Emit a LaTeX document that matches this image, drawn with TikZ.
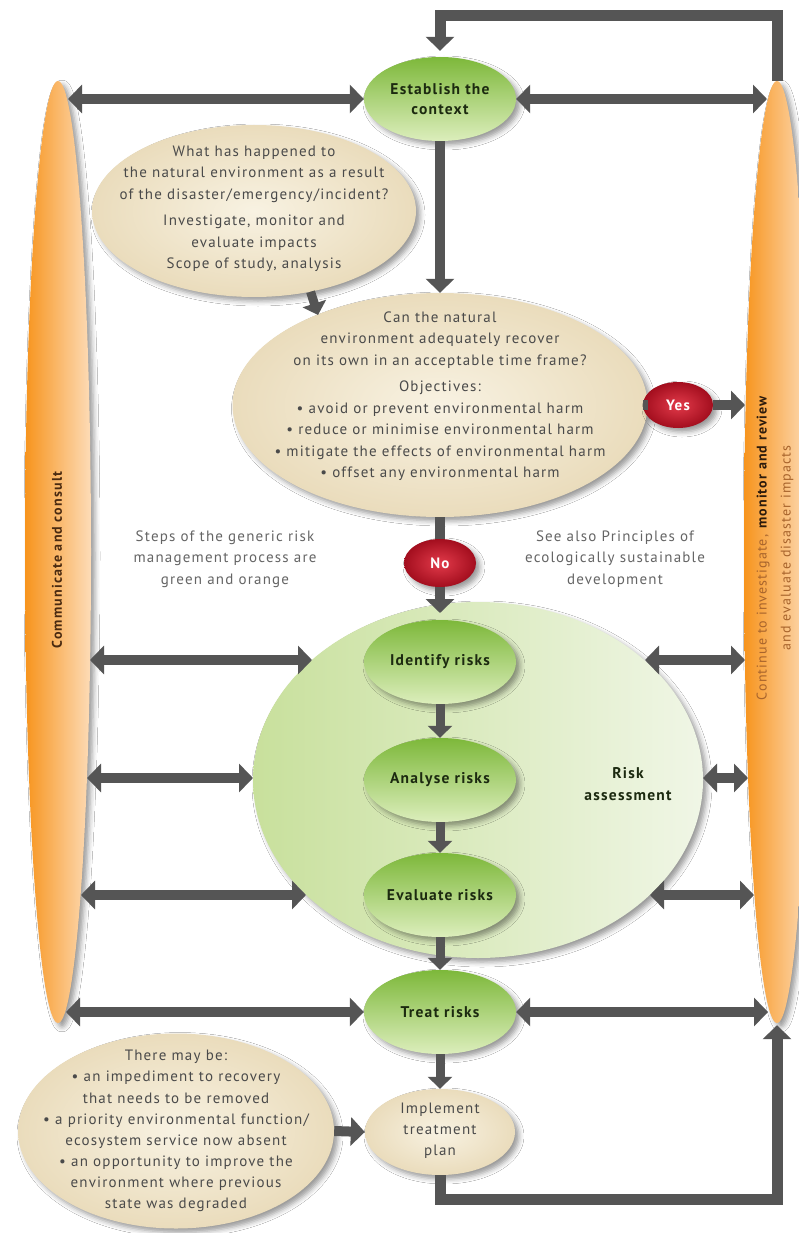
\documentclass[tikz,border=0pt]{standalone}
\usepackage{fontspec}
\setmainfont{PT Sans}[LetterSpace=8]
\usetikzlibrary{shapes.geometric,arrows.meta,shadows,shadows.blur}
\definecolor{arrowgray}{HTML}{555555}
\definecolor{txtgray}{HTML}{4A4A4A}
\definecolor{greentop}{HTML}{7DB83A}
\definecolor{greenbot}{HTML}{DCEEBC}
\definecolor{beigeout}{HTML}{EADCBC}
\definecolor{beigein}{HTML}{F8F2E2}
\definecolor{raL}{HTML}{C8E09C}
\definecolor{raR}{HTML}{F0F6E6}
\definecolor{orangeA}{HTML}{F7941D}
\definecolor{orangeB}{HTML}{FDDCB8}
\definecolor{redA}{HTML}{E23A4A}
\definecolor{redB}{HTML}{A30E1E}
\definecolor{darkgreen}{HTML}{1C2A10}
\definecolor{brownbar}{HTML}{4A2A10}
\definecolor{orangetext}{HTML}{A8642C}
\definecolor{darkbrown}{HTML}{2B1A0C}
\begin{document}
\begin{tikzpicture}[x=1pt,y=-1pt,
  lineS/.style={draw=arrowgray, line width=10pt},
  arr/.style={lineS, -{Triangle[width=28pt,length=14pt]}},
  darr/.style={lineS, {Triangle[width=28pt,length=14pt]}-{Triangle[width=28pt,length=14pt]}},
  sarr/.style={draw=arrowgray, line width=9pt, -{Triangle[width=24pt,length=12pt]}},
  softshadow/.style={blur shadow={shadow xshift=4pt, shadow yshift=-4pt, shadow blur radius=5pt}},
  greennode/.style={ellipse, minimum width=152pt, minimum height=84pt, inner sep=0pt, top color=greentop, bottom color=greenbot, softshadow, font=\bfseries\fontsize{15.5}{20}\selectfont, text=darkgreen, align=center},
  beige/.style={ellipse, inner sep=0pt, inner color=beigein, outer color=beigeout, softshadow},
  btext/.style={font=\fontsize{15}{21.5}\selectfont, text=txtgray, align=center, inner sep=0pt},
  bar/.style={ellipse, minimum width=66pt, minimum height=942pt, inner sep=0pt, left color=orangeA, middle color=orangeA!85!white, right color=orangeB, softshadow},
  redov/.style={ellipse, minimum width=70pt, minimum height=46pt, inner sep=0pt, inner color=redA, outer color=redB, softshadow, text=white, font=\bfseries\fontsize{15}{16}\selectfont},
]
\useasboundingbox (0,0) rectangle (799,1233);
\fill[white] (0,0) rectangle (799,1233);

% side bars
\node[bar] (lbar) at (58,552) {};
\node[bar] (rbar) at (777,552) {};

% big ellipses
\node[ellipse, minimum width=450pt, minimum height=356pt, inner sep=0pt, left color=raL, right color=raR, softshadow] (ra) at (478,780) {};
\node[beige, minimum width=324pt, minimum height=172pt] (wh) at (254,211) {};
\node[beige, minimum width=415pt, minimum height=224pt] (can) at (440,405) {};
\node[beige, minimum width=316pt, minimum height=195pt] (tmb) at (176,1131) {};
\node[beige, minimum width=150pt, minimum height=86pt] (imp) at (440,1132) {};

% green steps
\node[greennode] (est) at (440,99) {Establish the\\context};
\node[greennode] (idr) at (440,662) {Identify risks};
\node[greennode] (anr) at (440,780) {Analyse risks};
\node[greennode] (evr) at (440,895) {Evaluate risks};
\node[greennode] (trt) at (440,1012) {Treat risks};

% decisions
\node[redov] (yes) at (678,405) {Yes};
\node[redov, minimum width=72pt, minimum height=48pt] (no) at (440,563) {No};

% free ends at the bars and the assessment ellipse
\coordinate (lA) at (68,99);   \coordinate (rA) at (767,99);
\coordinate (lB) at (90,660);  \coordinate (raB1) at (312,660);
\coordinate (raB2) at (645,660); \coordinate (rB) at (745,660);
\coordinate (lC) at (87,778);  \coordinate (raC1) at (253,778);
\coordinate (raC2) at (703,778); \coordinate (rC) at (748,778);
\coordinate (lD) at (81,895);  \coordinate (raD1) at (306,895);
\coordinate (raD2) at (650,895); \coordinate (rD) at (754,895);
\coordinate (lE) at (66,1012); \coordinate (rE) at (768,1012);
\coordinate (rY) at (745,405);
\coordinate (whA) at (318,315);
\coordinate (raN) at (440,613);

% connectors
\draw[arr, line width=11pt, line join=miter, shorten >=6pt] (rbar.north) -- ++(0,-65) -| (est.north);
\draw[arr, line width=11pt, line join=miter, shorten >=2pt] (imp.south) -- ++(0,24) -| (rbar.south);
\draw[darr] (lA) -- (est.west);
\draw[darr] (est.east) -- (rA);
\draw[arr] (est.south) -- (can.north);
\draw[sarr] (wh.-55) -- (whA);
\draw[lineS] (can.east) -- (yes.west);
\draw[arr] (yes.east) -- (rY);
\draw[lineS] (can.south) -- (no.north);
\draw[arr] (no.south) -- (raN);
\draw[darr] (lB) -- (raB1);
\draw[darr] (raB2) -- (rB);
\draw[darr] (lC) -- (raC1);
\draw[darr] (raC2) -- (rC);
\draw[darr] (lD) -- (raD1);
\draw[darr] (raD2) -- (rD);
\draw[sarr] (idr.south) -- (anr.north);
\draw[sarr] (anr.south) -- (evr.north);
\draw[sarr] (evr.south) -- (trt.north);
\draw[darr] (lE) -- (trt.west);
\draw[darr] (trt.east) -- (rE);
\draw[sarr] (trt.south) -- (imp.north);
\draw[arr] (tmb.east) -- (imp.west);

% texts
\node[btext] (whT) at (254,209) {What has happened to\\the natural environment as a result\\of the disaster/emergency/incident?\\[5pt]Investigate, monitor and\\evaluate impacts\\Scope of study, analysis};
\node[btext] (canT) at (440,396) {Can the natural\\environment adequately recover\\on its own in an acceptable time frame?\\[5pt]Objectives:\\• avoid or prevent environmental harm\\• reduce or minimise environmental harm\\• mitigate the effects of environmental harm\\• offset any environmental harm};
\node[btext, text=txtgray!85] (steps) at (225,559) {Steps of the generic risk\\management process are\\green and orange};
\node[btext, text=txtgray!85] (see) at (615,559) {See also Principles of\\ecologically sustainable\\development};
\node[btext, font=\bfseries\fontsize{15.5}{21.5}\selectfont, text=darkgreen] (raT) at (628,784) {Risk\\assessment};
\node[btext, font=\fontsize{15}{21.1}\selectfont] (tmbT) at (176,1131) {There may be:\\• an impediment to recovery\\that needs to be removed\\• a priority environmental function/\\ecosystem service now absent\\• an opportunity to improve the\\environment where previous\\state was degraded};
\node[btext, font=\fontsize{15}{21}\selectfont] (impT) at (440,1131) {Implement\\treatment\\plan};
\node[rotate=90, inner sep=0pt, font=\bfseries\fontsize{14}{15}\selectfont, text=brownbar] (lbarT) at (57,560) {Communicate and consult};
\node[rotate=90, inner sep=0pt, align=center, font=\fontsize{14}{24}\selectfont, text=orangetext] (rbarT) at (775,548) {Continue to investigate, \textbf{\color{darkbrown}monitor and review}\\and evaluate disaster impacts};
\end{tikzpicture}
\end{document}
